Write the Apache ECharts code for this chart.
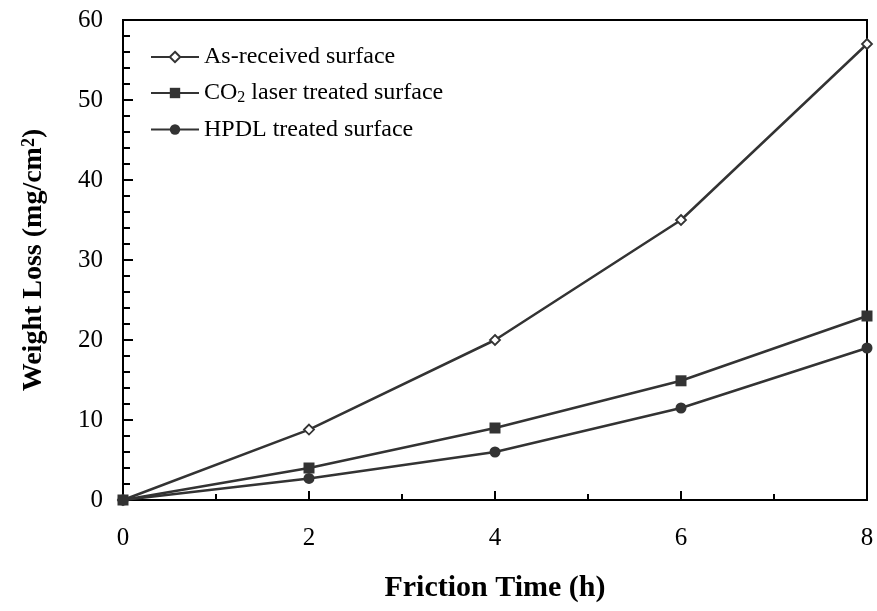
<!DOCTYPE html>
<html>
<head>
<meta charset="utf-8">
<script src="https://cdn.jsdelivr.net/npm/echarts@6/dist/echarts.min.js"></script>
<style>
  html, body { margin: 0; padding: 0; background: #fff; }
  #chart { width: 877px; height: 611px; }
</style>
</head>
<body>
<div id="chart"></div>
<script>
// 数据
const frictionTime = [0, 2, 4, 6, 8]
const asReceived = [0, 8.8, 20, 35, 57]
const co2Laser = [0, 4, 9, 14.9, 23]
const hpdl = [0, 2.7, 6, 11.5, 19]

const seriesNames = ['As-received surface', 'CO2 laser treated surface', 'HPDL treated surface']

const FONT = '"Liberation Serif", "Times New Roman", serif'
const INK = '#333'

const pairs = (ys) => frictionTime.map((x, i) => [x, ys[i]])

const myChart = echarts.init(document.getElementById('chart'))

const lineSeries = (name, ys, symbol, size, hollow) => ({
	name: name,
	type: 'line',
	data: pairs(ys),
	symbol: symbol,
	symbolSize: size,
	showSymbol: true,
	lineStyle: { color: INK, width: 2.5 },
	itemStyle: hollow
		? { color: '#fff', borderColor: INK, borderWidth: 1.8 }
		: { color: INK },
	emphasis: { disabled: true },
	z: 3
})

const option = {
	animation: false,
	backgroundColor: '#fff',
	grid: {
		left: 123,
		top: 20,
		right: 10,
		bottom: 111,
		show: true,
		borderColor: '#000',
		borderWidth: 2
	},
	legend: {
		orient: 'vertical',
		left: 145,
		top: 40,
		itemWidth: 48,
		itemHeight: 13,
		itemGap: 12,
		data: seriesNames,
		textStyle: {
			fontFamily: FONT,
			fontSize: 24,
			color: '#000',
			rich: {
				a: { fontFamily: FONT, fontSize: 24, color: '#000', lineHeight: 25 },
				sub: { fontFamily: FONT, fontSize: 16, color: '#000', verticalAlign: 'bottom', lineHeight: 13 }
			}
		},
		formatter: function (name) {
			if (name.indexOf('CO2') === 0) {
				return '{a|CO}{sub|2}{a|' + name.slice(3) + '}'
			}
			return '{a|' + name + '}'
		}
	},
	xAxis: {
		type: 'value',
		min: 0,
		max: 8,
		interval: 2,
		name: 'Friction Time (h)',
		nameLocation: 'middle',
		nameGap: 73,
		nameTextStyle: { fontFamily: FONT, fontSize: 30, fontWeight: 'bold', color: '#000' },
		axisLine: { show: true, lineStyle: { color: '#000', width: 2 } },
		axisTick: { show: true, inside: true, length: 9, lineStyle: { color: '#000', width: 2 } },
		minorTick: { show: true, splitNumber: 2, length: 6, lineStyle: { color: '#000', width: 2 } },
		splitLine: { show: false },
		axisLabel: { fontFamily: FONT, fontSize: 25, color: '#000', margin: 26 }
	},
	yAxis: {
		type: 'value',
		min: 0,
		max: 60,
		interval: 10,
		name: 'Weight Loss (mg/cm{sup|2})',
		nameLocation: 'middle',
		nameGap: 75,
		nameTextStyle: {
			fontFamily: FONT, fontSize: 28, fontWeight: 'bold', color: '#000',
			rich: {
				sup: { fontFamily: FONT, fontSize: 18, fontWeight: 'bold', color: '#000', verticalAlign: 'top', lineHeight: 16 }
			}
		},
		axisLine: { show: true, lineStyle: { color: '#000', width: 2 } },
		axisTick: { show: true, inside: true, length: 10, lineStyle: { color: '#000', width: 2 } },
		minorTick: { show: true, splitNumber: 5, length: 7, lineStyle: { color: '#000', width: 2 } },
		splitLine: { show: false },
		axisLabel: { fontFamily: FONT, fontSize: 25, color: '#000', margin: 20 }
	},
	series: [
		lineSeries(seriesNames[0], asReceived, 'diamond', 10, true),
		lineSeries(seriesNames[1], co2Laser, 'rect', 11, false),
		lineSeries(seriesNames[2], hpdl, 'circle', 11, false)
	]
}

myChart.setOption(option)
</script>
</body>
</html>
